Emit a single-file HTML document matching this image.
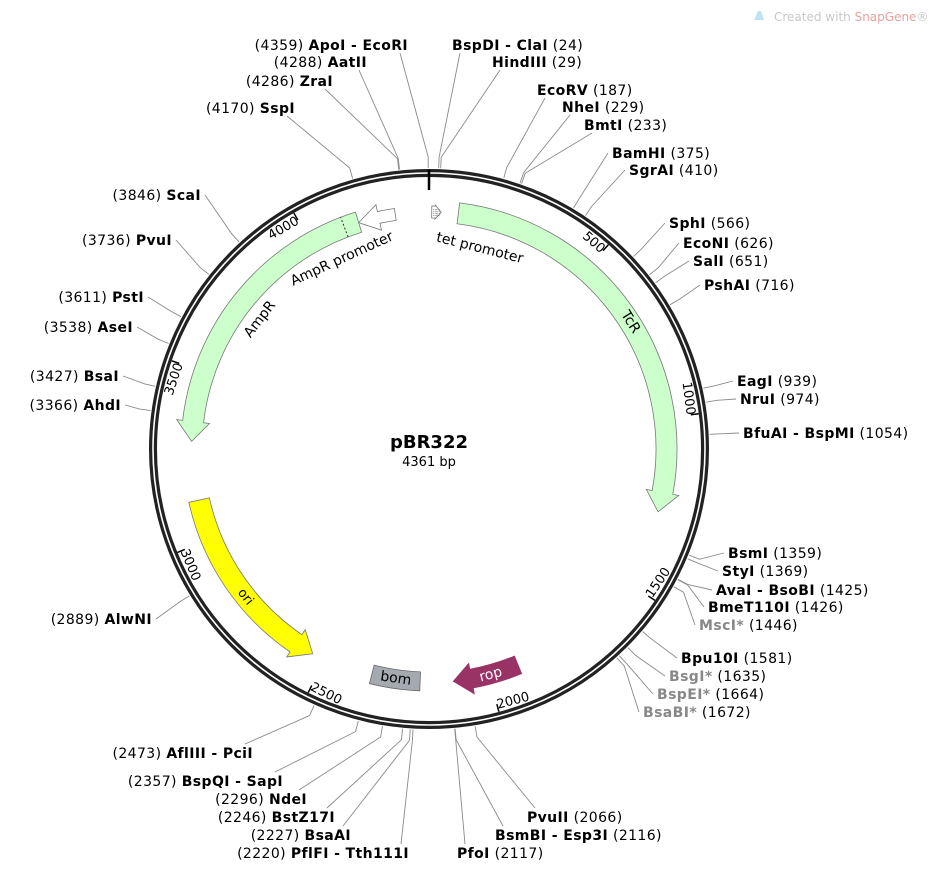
<!DOCTYPE html>
<html><head><meta charset="utf-8">
<style>
html,body{margin:0;padding:0;background:#fff;}
svg{display:block;font-family:"DejaVu Sans","Liberation Sans",sans-serif;}
</style></head>
<body>
<svg id="s" width="934" height="872" viewBox="0 0 934 872" xmlns="http://www.w3.org/2000/svg">
<text x="774" y="21" font-size="12" fill="#c8c8c8">Created with <tspan fill="#e8a0a0">SnapGene</tspan>®</text>
<path d="M754 20 L758 11 L761 11 L764 20 Z" fill="#bfe3f5"/>
</svg>
<script>
(function(){
var NS="http://www.w3.org/2000/svg",s=document.getElementById('s');
var cx=429,cy=449,L=4361;
function el(t,a,p){var e=document.createElementNS(NS,t);for(var k in a)e.setAttribute(k,a[k]);(p||s).appendChild(e);return e;}
function ang(p){return p/L*360;}
function pt(th,r){var a=th*Math.PI/180;return [cx+r*Math.sin(a),cy-r*Math.cos(a)];}
function P(th,r){var q=pt(th,r);return q[0].toFixed(2)+' '+q[1].toFixed(2);}
el('circle',{cx:cx,cy:cy,r:276,fill:'none',stroke:'#222','stroke-width':8});
el('circle',{cx:cx,cy:cy,r:276,fill:'none',stroke:'#fff','stroke-width':1.6});
function band(t1,t2,ri,ro,dir,h,fill,stroke,hw){
 hw=hw===undefined?6:hw;
 var d,lg=(t2-t1)>180?1:0;
 if(dir>0){var b=t2-h;lg=(b-t1)>180?1:0;
  d='M'+P(t1,ro)+' A'+ro+' '+ro+' 0 '+lg+' 1 '+P(b,ro)+' L'+P(b,ro+hw)+' L'+P(t2,(ri+ro)/2)+' L'+P(b,ri-hw)+' L'+P(b,ri)+' A'+ri+' '+ri+' 0 '+lg+' 0 '+P(t1,ri)+' Z';}
 else if(dir<0){var b=t1+h;lg=(t2-b)>180?1:0;
  d='M'+P(t2,ro)+' A'+ro+' '+ro+' 0 '+lg+' 0 '+P(b,ro)+' L'+P(b,ro+hw)+' L'+P(t1,(ri+ro)/2)+' L'+P(b,ri-hw)+' L'+P(b,ri)+' A'+ri+' '+ri+' 0 '+lg+' 1 '+P(t2,ri)+' Z';}
 else {d='M'+P(t1,ro)+' A'+ro+' '+ro+' 0 '+lg+' 1 '+P(t2,ro)+' L'+P(t2,ri)+' A'+ri+' '+ri+' 0 '+lg+' 0 '+P(t1,ri)+' Z';}
 el('path',{d:d,fill:fill,stroke:stroke||'#777','stroke-width':0.8});
}
function curvedText(txt,th,r,fill,size){
 var rot=(th>90&&th<270)?th-180:(th>=270?th-360:th);
 var q=pt(th,r);
 var t=el('text',{x:q[0],y:q[1],'font-size':size||14,fill:fill||'#000','text-anchor':'middle','dominant-baseline':'central',transform:'rotate('+rot+' '+q[0]+' '+q[1]+')'});
 t.textContent=txt;
}
band(ang(86),ang(1276),227,248,1,4.8,'#ccffcc');
band(ang(3293),ang(4152),227,248,-1,4.8,'#ccffcc');
var a1=pt(ang(4108),227),a2=pt(ang(4108),248);
el('line',{x1:a1[0],y1:a1[1],x2:a2[0],y2:a2[1],stroke:'#333','stroke-dasharray':'2,2'});
band(ang(4152),ang(4262),231,243,-1,5,'#fff','#777',7);
band(ang(8),ang(36),231,243,1,1.5,'#fff','#777',1);
for(var i=0;i<5;i++){var q1=pt(ang(14+i*4),233),q2=pt(ang(14+i*4),241);el('line',{x1:q1[0],y1:q1[1],x2:q2[0],y2:q2[1],stroke:'#555','stroke-width':0.6,'stroke-dasharray':'1,1'});}
band(ang(2539),ang(3119),225,246,-1,4.8,'#ffff00');
band(ang(1909),ang(2108),224,243,1,4.5,'#993366','#993366');
band(ang(2207),ang(2353),223,242,0,0,'#a5aab1','#666');
curvedText('TcR',ang(700),238);
curvedText('AmpR',ang(3725),213);
curvedText('AmpR promoter',ang(4063),209);
curvedText('tet promoter',ang(172),207);
curvedText('ori',ang(2800),236,'#000',13);
curvedText('rop',ang(1995),234,'#fff',14);
curvedText('bom',ang(2280),232,'#000',14);
var tk=[500,1000,1500,2000,2500,3000,3500,4000];
tk.forEach(function(p){var th=ang(p),a=pt(th,272),b=pt(th,264);
 el('line',{x1:a[0],y1:a[1],x2:b[0],y2:b[1],stroke:'#000','stroke-width':1.5});
 var rot,anc;
 if(th<90){rot=th;anc='end';} else if(th<270){rot=th-180;anc='start';} else {rot=th-360;anc='end';}
 var q=pt(th,260);
 var t=el('text',{x:q[0],y:q[1],'font-size':13,'text-anchor':anc,'dominant-baseline':(th>=90&&th<270)?'hanging':'auto',transform:'rotate('+rot+' '+q[0]+' '+q[1]+')'});
 t.textContent=String(p);
});
el('line',{x1:cx,y1:cy-279,x2:cx,y2:cy-259,stroke:'#000','stroke-width':2.5});
var t=el('text',{x:429,y:448,'font-size':18,'font-weight':'bold','text-anchor':'middle'});t.textContent='pBR322';
t=el('text',{x:429,y:466,'font-size':13,'text-anchor':'middle'});t.textContent='4361 bp';
var R=[['BspDI - ClaI',24,452,50],['HindIII',29,492,67],['EcoRV',187,537,95],['NheI',229,562,112],['BmtI',233,584,130],
['BamHI',375,612,158],['SgrAI',410,629,175],['SphI',566,669,228],['EcoNI',626,683,248],['SalI',651,693,266],['PshAI',716,704,290],
['EagI',939,737,386],['NruI',974,740,404],['BfuAI - BspMI',1054,743,438],['BsmI',1359,728,558],['StyI',1369,722,576],
['AvaI - BsoBI',1425,716,595],['BmeT110I',1426,708,612],['MscI*',1446,699,630,1],['Bpu10I',1581,681,663],['BsgI*',1635,669,681,1],
['BspEI*',1664,657,699,1],['BsaBI*',1672,643,717,1],['PvuII',2066,527,822],['BsmBI - Esp3I',2116,495,840],['PfoI',2117,457,858]];
var Lf=[['ApoI - EcoRI',4359,408,50],['AatII',4288,367,67],['ZraI',4286,333,86],['SspI',4170,295,113],['ScaI',3846,201,200],
['PvuI',3736,172,245],['PstI',3611,144,302],['AseI',3538,133,332],['BsaI',3427,119,381],['AhdI',3366,121,410],['AlwNI',2889,152,624],
['AflIII - PciI',2473,253,758],['BspQI - SapI',2357,283,786],['NdeI',2296,307,804],['BstZ17I',2246,335,822],['BsaAI',2227,351,840],['PflFI - Tth111I',2220,409,858]];
var lines=el('g',{stroke:'#8a8a8a','stroke-width':0.9,fill:'none'});
function site(d,right){
 var name=d[0],pos=d[1],x=d[2],y=d[3],g=d[4];
 var t=el('text',{x:x,y:y,'font-size':14,'letter-spacing':0.4,'text-anchor':right?'start':'end','xml:space':'preserve'});
 var a,b;
 if(right){a=el('tspan',{'font-weight':'bold',fill:g?'#888':'#000'},t);a.textContent=name;b=el('tspan',{fill:'#000'},t);b.textContent='  ('+pos+')';}
 else{b=el('tspan',{fill:'#000'},t);b.textContent='('+pos+')  ';a=el('tspan',{'font-weight':'bold',fill:'#000'},t);a.textContent=name;}
 var nw=a.getComputedTextLength();
 var ax,ay;
 if(y<135){ay=y+3;ax=right?x+Math.min(8,nw/2):x-Math.min(8,nw/2);}
 else if(y>740){ay=y-14;ax=right?x+Math.min(8,nw/2):x-Math.min(8,nw/2);}
 else{ay=y-5;ax=right?x-4:x+4;}
 var th=ang(pos),e=pt(th,292),c=pt(th,281);
 el('polyline',{points:ax+','+ay+' '+e[0].toFixed(1)+','+e[1].toFixed(1)+' '+c[0].toFixed(1)+','+c[1].toFixed(1)},lines);
}
R.forEach(function(d){site(d,true);});
Lf.forEach(function(d){site(d,false);});
})();
</script>
</body></html>
